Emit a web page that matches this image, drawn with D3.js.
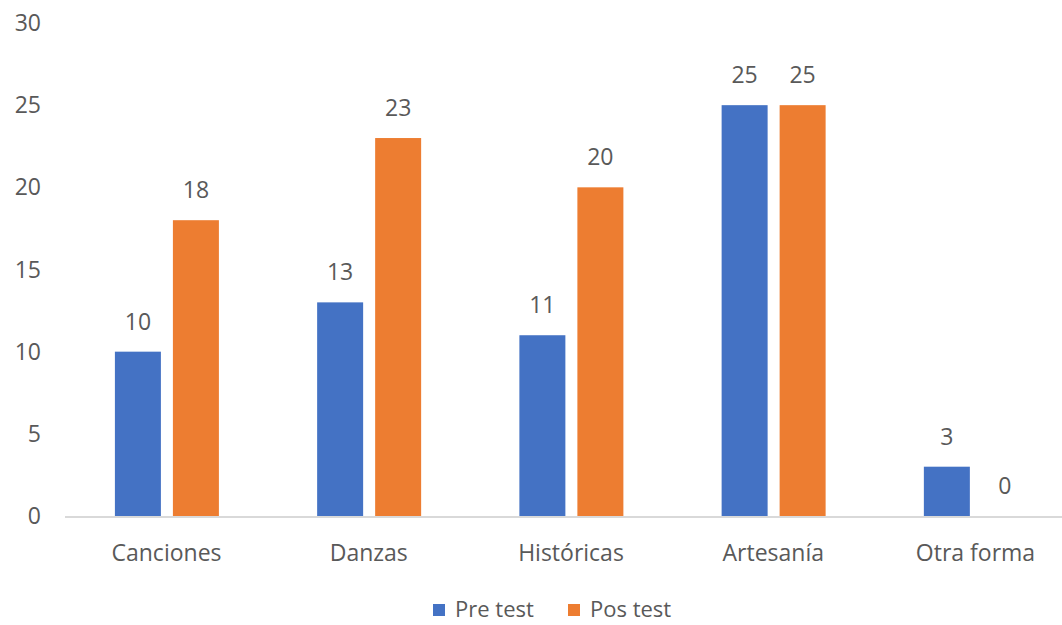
<!DOCTYPE html>
<html><head><meta charset="utf-8">
<script src="https://cdn.jsdelivr.net/npm/d3@7/dist/d3.min.js"></script>
<style>body{margin:0;background:#fff;} text{font-family:"Open Sans","Noto Sans",sans-serif;fill:#595959;}</style>
</head><body><svg id="c" width="1062" height="625"></svg>
<script>
const categories = ["Canciones","Danzas","Históricas","Artesanía","Otra forma"];
const seriesNames = ["Pre test","Pos test"];
const preTest = [10,13,11,25,3];
const posTest = [18,23,20,25,0];
const yTicks = [0,5,10,15,20,25,30];
const colors = ["#4472c4","#ed7d31"];
const fs = "23px";

const svg = d3.select("#c");
const x = d3.scaleBand().domain(categories).range([65.4,1076.6]).paddingInner(0).paddingOuter(0);
const y = d3.scaleLinear().domain([0,30]).range([516,23]);
const xs = d3.scaleBand().domain(seriesNames).range([49.5,153.5]).paddingInner(0.207);

svg.append("g").selectAll("text").data(yTicks).join("text")
  .attr("x",41).attr("y",d=>y(d)).attr("dy","0.35em").attr("text-anchor","end")
  .style("font-size",fs).text(d=>d);

svg.append("line").attr("x1",65).attr("x2",1062).attr("y1",517).attr("y2",517)
  .attr("stroke","#d9d9d9").attr("stroke-width",2);

const data = categories.map((c,i)=>({c, vals:[preTest[i],posTest[i]]}));
const g = svg.append("g").selectAll("g").data(data).join("g")
  .attr("transform",d=>`translate(${x(d.c)},0)`);
g.selectAll("rect").data(d=>d.vals.map((v,k)=>({v,k}))).join("rect")
  .attr("x",d=>xs(seriesNames[d.k])).attr("width",xs.bandwidth())
  .attr("y",d=>y(d.v)).attr("height",d=>y(0)-y(d.v)).attr("fill",d=>colors[d.k]);
g.selectAll("text").data(d=>d.vals.map((v,k)=>({v,k}))).join("text")
  .attr("x",d=>xs(seriesNames[d.k])+xs.bandwidth()/2).attr("y",d=>y(d.v)-30)
  .attr("dy","0.35em").attr("text-anchor","middle").style("font-size",fs).text(d=>d.v);

svg.append("g").selectAll("text").data(categories).join("text")
  .attr("x",d=>x(d)+x.bandwidth()/2).attr("y",553).attr("dy","0.35em")
  .attr("text-anchor","middle").style("font-size",fs).text(d=>d);

const leg = svg.append("g");
const legX = [433,568];
seriesNames.forEach((s,k)=>{
  leg.append("rect").attr("x",legX[k]).attr("y",604).attr("width",12).attr("height",12).attr("fill",colors[k]);
  leg.append("text").attr("x",legX[k]+22).attr("y",609).attr("dy","0.35em").style("font-size","22px").text(s);
});
</script></body></html>
